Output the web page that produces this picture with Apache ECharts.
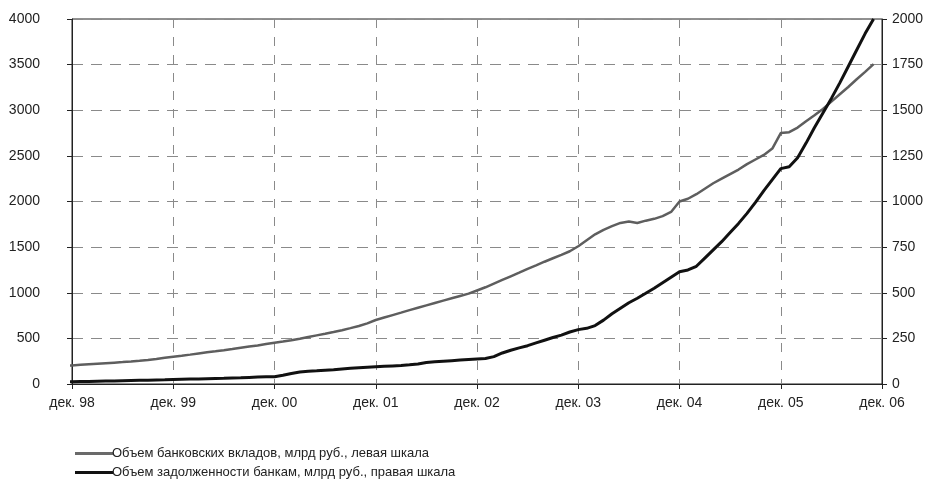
<!DOCTYPE html>
<html>
<head>
<meta charset="utf-8">
<script src="https://cdn.jsdelivr.net/npm/echarts@6/dist/echarts.min.js"></script>
<style>
html,body{margin:0;padding:0;background:#fff;}
#chart{width:931px;height:485px;}
</style>
</head>
<body>
<div id="chart"></div>
<script>
// Tick labels on the month axis (one every 12 months)
var tickLabels = ['дек. 98','дек. 99','дек. 00','дек. 01','дек. 02','дек. 03','дек. 04','дек. 05','дек. 06'];
// Month index of the first data point relative to "дек. 98" (series start one month before)
var startMonth = -1;
// Bank deposits, bn rub (left scale), monthly
var deposits = [
  197,203,210,216,222,228,234,240,247,255,264,275,287,299,
  310,322,335,347,358,370,383,397,410,423,438,453,
  465,480,497,515,533,551,570,590,612,635,665,701,
  728,755,782,810,836,862,888,914,940,965,990,1025,
  1060,1100,1140,1180,1220,1262,1300,1340,1378,1415,1455,1510,
  1575,1640,1690,1730,1765,1780,1765,1790,1810,1840,1885,2000,
  2030,2080,2140,2200,2250,2300,2350,2410,2460,2510,2580,2750,
  2760,2810,2880,2945,3015,3095,3175,3255,3340,3420,3505
];
// Debt to banks, bn rub (right scale), monthly
var debt = [
  12,13,14,14,15,16,17,18,19,20,21,22,23,25,
  26,27,28,29,30,31,33,34,36,38,40,40,
  48,58,66,70,72,75,78,82,86,89,92,95,
  97,99,101,105,110,118,122,125,128,131,134,137,
  140,150,170,185,198,210,225,240,255,268,285,298,
  305,320,350,385,415,445,470,497,525,555,585,615,
  625,645,690,735,780,830,880,935,995,1060,1120,1180,
  1190,1240,1320,1405,1485,1565,1650,1740,1830,1920,2000
];
var seriesNames = ['Объем банковских вкладов, млрд руб., левая шкала','Объем задолженности банкам, млрд руб., правая шкала'];

function toPoints(arr){ return arr.map(function(v,i){ return [i+startMonth, v]; }); }

var font = 'Liberation Sans, Arial, sans-serif';
var chart = echarts.init(document.getElementById('chart'), null, {renderer:'canvas'});
chart.setOption({
  animation:false,
  backgroundColor:'#fff',
  textStyle:{fontFamily:font,color:'#222'},
  grid:{left:72,right:49,top:19,bottom:101,show:true,borderColor:'#222',borderWidth:1,backgroundColor:'transparent'},
  legend:{
    orient:'vertical',left:70,top:442,itemWidth:38,itemHeight:3,itemGap:6,icon:'rect',
    textStyle:{fontFamily:font,fontSize:13,color:'#222',padding:[0,0,0,-6]},
    data:[{name:seriesNames[0],itemStyle:{color:'#6a6a6a'}},{name:seriesNames[1],itemStyle:{color:'#111'}}]
  },
  xAxis:{
    type:'value',min:0,max:96,interval:12,
    axisLine:{show:true,onZero:false,lineStyle:{color:'#222',width:1}},
    axisTick:{show:true,length:5,lineStyle:{color:'#222'}},
    axisLabel:{margin:12,fontSize:14,color:'#222',fontFamily:font,formatter:function(v){return tickLabels[Math.round(v/12)]||'';}},
    splitLine:{show:true,lineStyle:{color:'#8a8a8a',type:[9,9],width:1}}
  },
  yAxis:[{
    type:'value',min:0,max:4000,interval:500,position:'left',
    axisLine:{show:true,lineStyle:{color:'#222'}},
    axisTick:{show:true,length:5,lineStyle:{color:'#222'}},
    axisLabel:{margin:32,fontSize:14,color:'#222',fontFamily:font,formatter:function(v){return String(v);}},
    splitLine:{show:true,lineStyle:{color:'#8a8a8a',type:[11,8],width:1}}
  },{
    type:'value',min:0,max:2000,interval:250,position:'right',
    axisLine:{show:true,lineStyle:{color:'#222'}},
    axisTick:{show:true,length:5,lineStyle:{color:'#222'}},
    axisLabel:{margin:10,fontSize:14,color:'#222',fontFamily:font,formatter:function(v){return String(v);}},
    splitLine:{show:false}
  }],
  series:[{
    name:seriesNames[0],type:'line',yAxisIndex:0,data:toPoints(deposits),
    showSymbol:false,symbol:'none',clip:false,
    lineStyle:{color:'#5e5e5e',width:2.5},itemStyle:{color:'#6a6a6a'}
  },{
    name:seriesNames[1],type:'line',yAxisIndex:1,data:toPoints(debt),
    showSymbol:false,symbol:'none',clip:false,
    lineStyle:{color:'#111',width:3},itemStyle:{color:'#111'}
  }]
});
</script>
</body>
</html>
